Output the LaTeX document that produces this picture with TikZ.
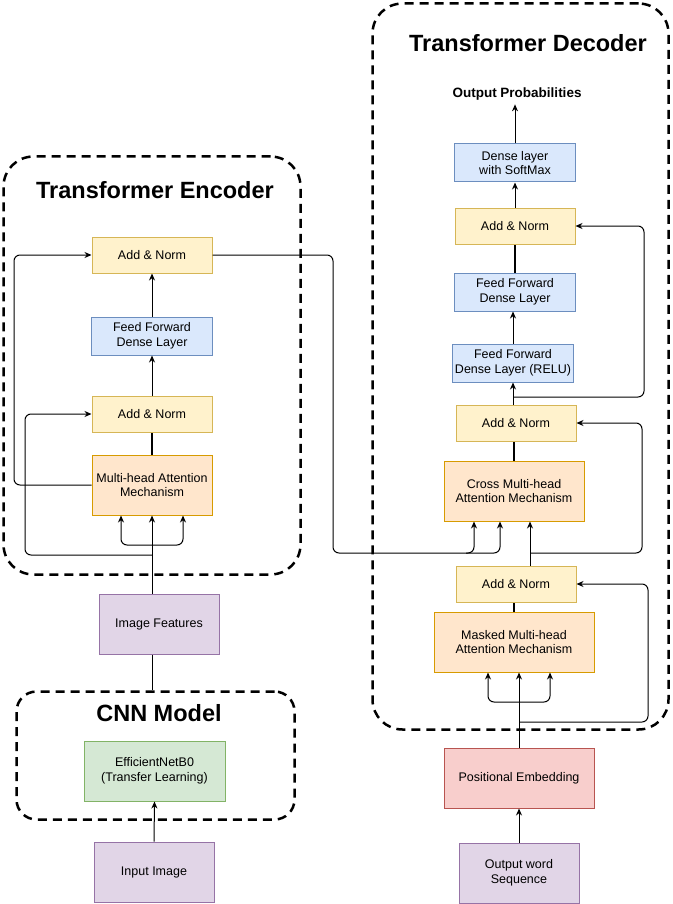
\documentclass[tikz,border=0pt]{standalone}
\usepackage{fontspec}
\setmainfont{Liberation Sans}
\usetikzlibrary{arrows.meta,calc}

\definecolor{yfill}{HTML}{FFF2CC}
\definecolor{yline}{HTML}{D6B656}
\definecolor{bfill}{HTML}{DAE8FC}
\definecolor{bline}{HTML}{6C8EBF}
\definecolor{ofill}{HTML}{FFE6CC}
\definecolor{oline}{HTML}{D79B00}
\definecolor{pfill}{HTML}{E1D5E7}
\definecolor{pline}{HTML}{9673A6}
\definecolor{gfill}{HTML}{D5E8D4}
\definecolor{gline}{HTML}{82B366}
\definecolor{rfill}{HTML}{F8CECC}
\definecolor{rline}{HTML}{B85450}

\tikzset{
  box/.style={draw, line width=1pt, align=center, inner sep=2pt, font=\fontsize{12.5}{14.5}\selectfont},
  addnorm/.style={box, fill=yfill, draw=yline, minimum width=120pt, minimum height=36pt},
  dense/.style={box, fill=bfill, draw=bline, minimum width=121pt, minimum height=38pt},
  attn/.style={box, fill=ofill, draw=oline, minimum height=60pt},
  io/.style={box, fill=pfill, draw=pline, minimum width=120pt, minimum height=60pt},
  cnnbox/.style={box, fill=gfill, draw=gline, minimum width=141pt, minimum height=60pt},
  embed/.style={box, fill=rfill, draw=rline, minimum width=150pt, minimum height=60pt},
  dashframe/.style={draw, line width=2.5pt, dash pattern=on 9pt off 6pt},
  title/.style={anchor=base, font=\fontsize{23.5}{28}\selectfont\bfseries},
}

\begin{document}
\begin{tikzpicture}[x=1pt, y=-1pt,
  arr/.style={-{Stealth[length=7pt,width=6pt]}, line width=1pt},
  link/.style={line width=1.5pt}]
\useasboundingbox (0,0) rectangle (672,904);

% frames
\node[dashframe, rounded corners=30pt, minimum width=297pt, minimum height=418pt] (encFrame) at (152,365.5) {};
\node[dashframe, rounded corners=30pt, minimum width=296pt, minimum height=726pt] (decFrame) at (520.5,366.5) {};
\node[dashframe, rounded corners=20pt, minimum width=278pt, minimum height=128pt] (cnnFrame) at (155.5,755.5) {};

\node[title] (encTitle) at (155,198) {Transformer Encoder};
\node[title] (decTitle) at (528,52) {Transformer Decoder};
\node[title] (cnnTitle) at (159,721) {CNN Model};

% encoder
\node[addnorm] (encAddTop) at (152,255) {Add \& Norm};
\node[dense] (encFF) at (152,336) {Feed Forward\\Dense Layer};
\node[addnorm] (encAddBot) at (152,414) {Add \& Norm};
\node[attn, minimum width=120pt] (encMHA) at (152,485) {Multi-head Attention\\Mechanism};
\node[io] (imgFeat) at (159,624) {Image Features};
\node[cnnbox] (effNet) at (154.5,771) {EfficientNetB0\\(Transfer Learning)};
\node[io] (inImg) at (154,872) {Input Image};

% decoder
\node[anchor=base, font=\fontsize{13.5}{15}\selectfont\bfseries] (outProb) at (517,98) {Output Probabilities};
\node[dense] (decDense) at (515,163) {Dense layer\\with SoftMax};
\node[addnorm] (decAddTop) at (515,226) {Add \& Norm};
\node[dense] (decFF) at (515,292) {Feed Forward\\Dense Layer};
\node[dense] (decFFRelu) at (513,363) {Feed Forward\\Dense Layer (RELU)};
\node[addnorm] (decAddMid) at (516,423) {Add \& Norm};
\node[attn, minimum width=140pt] (decCross) at (514,491) {Cross Multi-head\\Attention Mechanism};
\node[addnorm] (decAddBot) at (516,584) {Add \& Norm};
\node[attn, minimum width=160pt] (decMasked) at (514,642) {Masked Multi-head\\Attention Mechanism};
\node[embed] (posEmb) at (519,778) {Positional Embedding};
\node[io] (outSeq) at (519,873) {Output word\\Sequence};

% encoder links
\coordinate (encSplit) at (152,545);
\coordinate (encRes) at (152,555);
\draw[arr] (encMHA.south |- imgFeat.north) -- (encMHA.south);
\draw[arr, rounded corners=6pt] (encSplit) -| ([xshift=-31pt]encMHA.south);
\draw[arr, rounded corners=6pt] (encSplit) -| ([xshift=31pt]encMHA.south);
\draw[arr, rounded corners=6pt] (encRes) -- (25,555) |- (encAddBot.west);
\draw[arr, rounded corners=6pt] (encMHA.west) -- (14,485) |- (encAddTop.west);
\draw[link] (encMHA.north) -- (encAddBot.south);
\draw[arr] (encAddBot.north) -- (encFF.south);
\draw[arr] (encFF.north) -- (encAddTop.south);
\draw[link, line width=1pt] (encMHA.south |- imgFeat.south) -- (encMHA.south |- cnnFrame.north);
\draw[arr] (inImg.north) -- (effNet.south);

% encoder to decoder
\coordinate (crossSplit) at (466,553);
\draw[arr, rounded corners=6pt] (encAddTop.east) -- (333,255) -- (333,553) -| ([xshift=-40pt]decCross.south);
\draw[arr, rounded corners=6pt] (crossSplit) -| ([xshift=-14pt]decCross.south);

% decoder links
\coordinate (maskSplit) at (519,702);
\coordinate (maskRes) at (519,722);
\coordinate (crossRes) at (530,553);
\coordinate (reluRes) at (513,397);
\draw[arr] (outSeq.north) -- (posEmb.south);
\draw[arr] (posEmb.north) -- (posEmb.north |- decMasked.south);
\draw[arr, rounded corners=6pt] (maskSplit) -| ([xshift=-26pt]decMasked.south);
\draw[arr, rounded corners=6pt] (maskSplit) -| ([xshift=36pt]decMasked.south);
\draw[arr, rounded corners=6pt] (maskRes) -- (648,722) |- (decAddBot.east);
\draw[link] (decMasked.north) -- (decMasked.north |- decAddBot.south);
\draw[arr] ([xshift=16pt]decCross.south |- decAddBot.north) -- ([xshift=16pt]decCross.south);
\draw[arr, rounded corners=6pt] (crossRes) -- (642,553) |- (decAddMid.east);
\draw[link] (decCross.north) -- (decCross.north |- decAddMid.south);
\draw[arr] (decFFRelu.south |- decAddMid.north) -- (decFFRelu.south);
\draw[arr, rounded corners=6pt] (reluRes) -- (644,397) |- (decAddTop.east);
\draw[arr] (decFFRelu.north) -- (decFFRelu.north |- decFF.south);
\draw[link] (decFF.north) -- (decAddTop.south);
\draw[arr] (decAddTop.north) -- (decDense.south);
\draw[arr] (decDense.north) -- (decDense.north |- outProb.south);
\end{tikzpicture}
\end{document}
